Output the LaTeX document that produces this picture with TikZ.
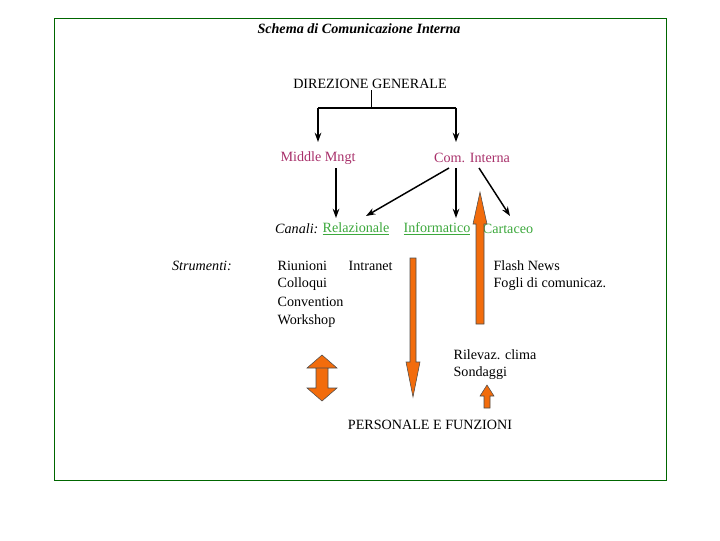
\documentclass[tikz,border=0pt]{standalone}
\usepackage{fontspec}
\setmainfont{Liberation Serif}
\usetikzlibrary{arrows.meta}
\definecolor{mag}{HTML}{A8306A}
\definecolor{grn}{HTML}{3CA83C}
\definecolor{org}{HTML}{F26C0C}
\begin{document}
\begin{tikzpicture}[x=0.75pt,y=-0.75pt,
  t/.style={font=\fontsize{10.6}{12}\selectfont,inner sep=1pt},
  lt/.style={t,anchor=west},
  m/.style={t,text=mag},
  g/.style={t,text=grn},
  ar/.style={-{Stealth[length=7pt,width=5pt]},line width=1.1pt},
  oa/.style={fill=org,draw=black!70,line width=0.4pt}]
\useasboundingbox (0,0) rectangle (720,540);
\draw[draw=green!40!black,line width=0.6pt] (54,18) rectangle (666,480);
\node[t,font=\fontsize{10.6}{12}\selectfont\itshape\bfseries] (title) at (359,29) {Schema di Comunicazione Interna};
\node[t] (dg) at (370,84) {DIREZIONE GENERALE};
\node[m] (mm) at (318,158) {Middle Mngt};
\node[m] (ci) at (472,158) {Com. Interna};
\node[t,anchor=east] (can) at (320,229) {\itshape Canali:};
\node[g] (rel) at (356,229) {\underline{Relazionale}};
\node[g] (inf) at (437,229) {\underline{Informatico}};
\node[g] (car) at (508,229) {Cartaceo};
\node[t,font=\fontsize{10.6}{12}\selectfont\itshape] (str) at (202,266) {Strumenti:};
\node[lt] (r1) at (276,266) {Riunioni};
\node[lt] (r2) at (276,284) {Colloqui};
\node[lt] (r3) at (276,302) {Convention};
\node[lt] (r4) at (276,321) {Workshop};
\node[lt] (intr) at (347,266) {Intranet};
\node[lt] (fn) at (492,266) {Flash News};
\node[lt] (fc) at (492,284) {Fogli di comunicaz.};
\node[lt] (ril) at (452,355) {Rilevaz. clima};
\node[lt] (son) at (452,373) {Sondaggi};
\node[t] (pf) at (430,425) {PERSONALE E FUNZIONI};
\coordinate (j) at (371,108);
\draw[line width=0.6pt] (dg.south -| j) -- (j);
\draw[line width=1.1pt] (318,108) -- (456,108);
\draw[ar] (318,107.5) -- (318,142);
\draw[ar] (456,107.5) -- (456,142);
\draw[ar] (336,168) -- (336,218);
\draw[ar] (449,168) -- (366,216);
\draw[ar] (456,168) -- (456,218);
\draw[ar] (479,168) -- (510,216);
% orange arrows
\draw[oa] (410,258) -- (416,258) -- (416,362) -- (420,362) -- (413,397) -- (406,362) -- (410,362) -- cycle;
\draw[oa] (476,324) -- (484,324) -- (484,224) -- (487,224) -- (480,192) -- (473,224) -- (476,224) -- cycle;
\draw[oa] (316,368) -- (328,368) -- (328,388) -- (337,388) -- (322,401) -- (307,388) -- (316,388) -- (316,368) -- (307,368) -- (322,355) -- (337,368) -- cycle;
\draw[oa] (484,408) -- (490,408) -- (490,396) -- (494,396) -- (487,385) -- (480,396) -- (484,396) -- cycle;
\end{tikzpicture}
\end{document}
